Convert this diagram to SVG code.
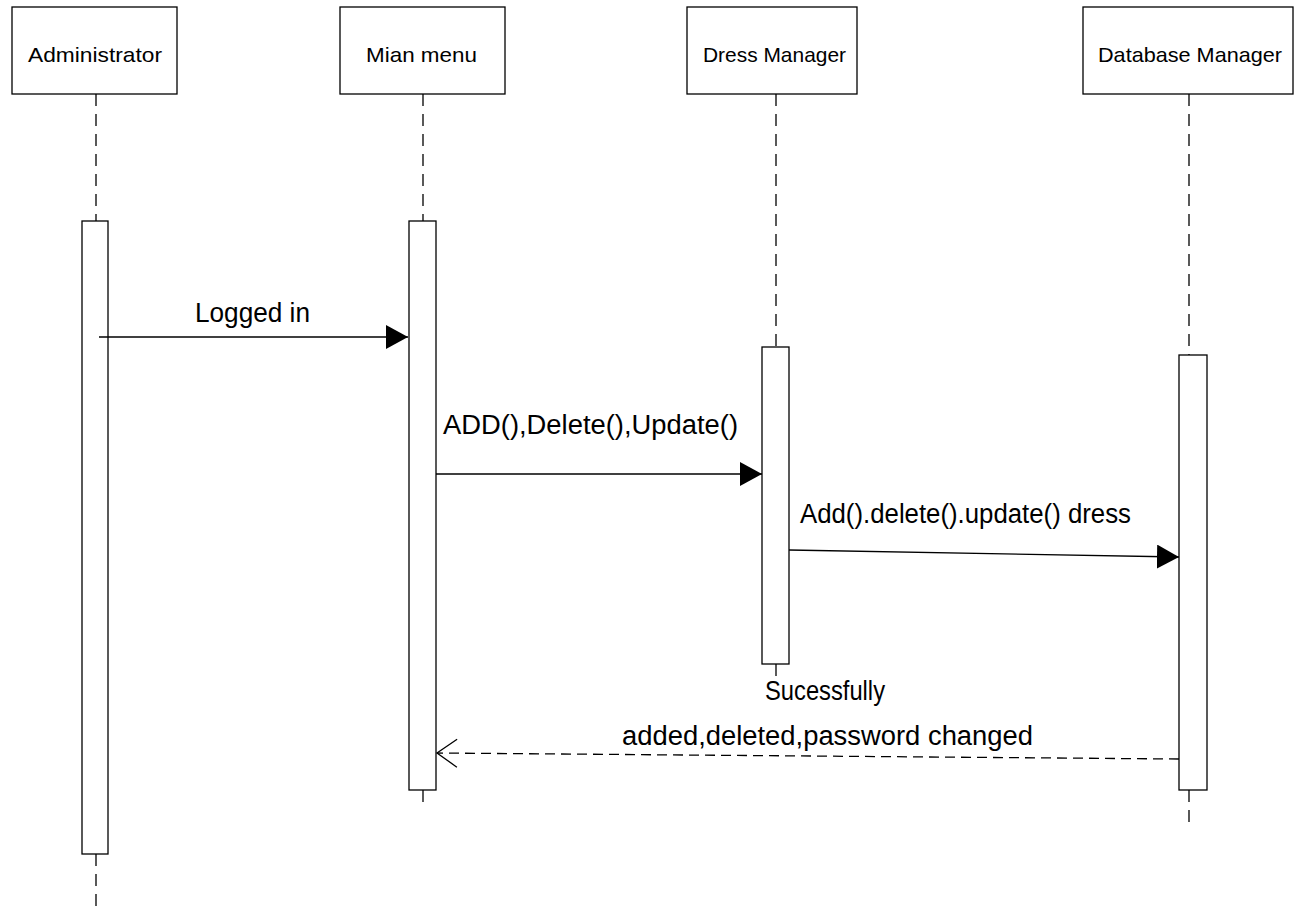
<svg xmlns="http://www.w3.org/2000/svg" width="1295" height="907" viewBox="0 0 1295 907">
<style>
.box{fill:#fff;stroke:#000;stroke-width:1.3}
.act{fill:#fff;stroke:#000;stroke-width:1.3}
.life{stroke:#000;stroke-width:1.3;stroke-dasharray:12 8;fill:none}
.lbl{font-family:"Liberation Sans",Arial,sans-serif;font-size:21px;fill:#000}
.msgt{font-family:"Liberation Sans",Arial,sans-serif;font-size:27px;fill:#000}
.msg{stroke:#000;stroke-width:1.3;fill:none}
.ret{stroke:#000;stroke-width:1.3;fill:none;stroke-dasharray:10 6}
</style>
<defs>
<marker id="filled" markerWidth="22" markerHeight="24" refX="22" refY="12" orient="auto" markerUnits="userSpaceOnUse">
<path d="M0,0 L22,12 L0,24 Z" fill="#000"/>
</marker>
<marker id="open" markerWidth="24" markerHeight="32" refX="22" refY="16" orient="auto" markerUnits="userSpaceOnUse">
<path d="M2,2 L22,16 L2,30" fill="none" stroke="#000" stroke-width="1.3"/>
</marker>
</defs>
<g id="admin">
<rect class="box" x="12" y="7" width="165" height="87"/>
<text class="lbl" x="28" y="62" textLength="134" lengthAdjust="spacingAndGlyphs">Administrator</text>
<line class="life" x1="96" y1="94" x2="96" y2="221"/>
<rect class="act" x="82" y="221" width="26" height="633"/>
<line class="life" x1="96" y1="854" x2="96" y2="907"/>
</g>
<g id="mainmenu">
<rect class="box" x="340" y="7" width="165" height="87"/>
<text class="lbl" x="366" y="62" textLength="111" lengthAdjust="spacingAndGlyphs">Mian menu</text>
<line class="life" x1="423" y1="94" x2="423" y2="221"/>
<rect class="act" x="409" y="221" width="27" height="569"/>
<line class="life" x1="423" y1="790" x2="423" y2="803"/>
</g>
<g id="dressmanager">
<rect class="box" x="687" y="7" width="170" height="87"/>
<text class="lbl" x="703" y="62" textLength="143" lengthAdjust="spacingAndGlyphs">Dress Manager</text>
<line class="life" x1="776" y1="94" x2="776" y2="347"/>
<rect class="act" x="762" y="347" width="27" height="317"/>
<line class="life" x1="776" y1="664" x2="776" y2="677"/>
</g>
<g id="dbmanager">
<rect class="box" x="1083" y="7" width="210" height="87"/>
<text class="lbl" x="1098" y="62" textLength="184" lengthAdjust="spacingAndGlyphs">Database Manager</text>
<line class="life" x1="1189" y1="94" x2="1189" y2="355"/>
<rect class="act" x="1179" y="355" width="28" height="435"/>
<line class="life" x1="1189" y1="790" x2="1189" y2="830"/>
</g>
<g id="connectors">
<line class="msg" x1="99" y1="337" x2="408" y2="337" marker-end="url(#filled)"/>
<text class="msgt" x="195" y="322" textLength="115" lengthAdjust="spacingAndGlyphs">Logged in</text>
<line class="msg" x1="436" y1="474" x2="762" y2="474" marker-end="url(#filled)"/>
<text class="msgt" x="443" y="434" textLength="295" lengthAdjust="spacingAndGlyphs">ADD(),Delete(),Update()</text>
<line class="msg" x1="789" y1="550" x2="1179" y2="557" marker-end="url(#filled)"/>
<text class="msgt" x="800" y="523" textLength="331" lengthAdjust="spacingAndGlyphs">Add().delete().update() dress</text>
<line class="ret" x1="1179" y1="759" x2="437" y2="753" marker-end="url(#open)"/>
<text class="msgt" x="765" y="700" textLength="120" lengthAdjust="spacingAndGlyphs">Sucessfully</text>
<text class="msgt" x="622" y="745" textLength="411" lengthAdjust="spacingAndGlyphs">added,deleted,password changed</text>
</g>
</svg>
